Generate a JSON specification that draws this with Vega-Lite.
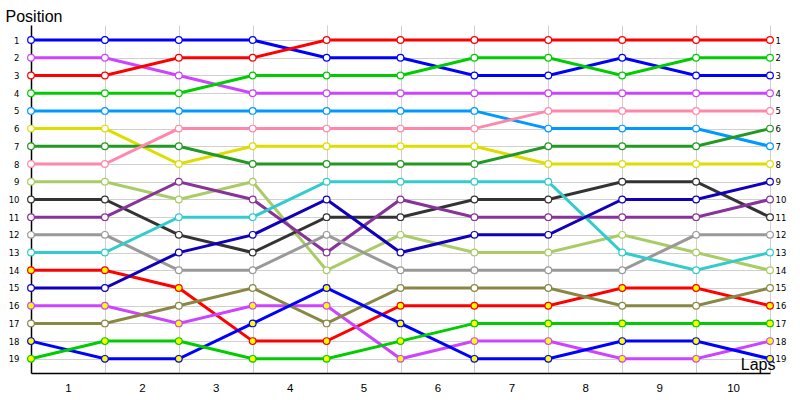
{
  "$schema": "https://vega.github.io/schema/vega-lite/v6.json",
  "width": 739,
  "height": 348,
  "autosize": {"type": "none"},
  "padding": {"left": 31, "top": 25, "right": 30, "bottom": 27},
  "background": "white",
  "config": {"view": {"stroke": null}},
  "datasets": {
    "laps": [
      {"d":"A","l":0,"p":1},{"d":"A","l":1,"p":1},{"d":"A","l":2,"p":1},{"d":"A","l":3,"p":1},{"d":"A","l":4,"p":2},{"d":"A","l":5,"p":2},{"d":"A","l":6,"p":3},{"d":"A","l":7,"p":3},{"d":"A","l":8,"p":2},{"d":"A","l":9,"p":3},{"d":"A","l":10,"p":3},
      {"d":"B","l":0,"p":2},{"d":"B","l":1,"p":2},{"d":"B","l":2,"p":3},{"d":"B","l":3,"p":4},{"d":"B","l":4,"p":4},{"d":"B","l":5,"p":4},{"d":"B","l":6,"p":4},{"d":"B","l":7,"p":4},{"d":"B","l":8,"p":4},{"d":"B","l":9,"p":4},{"d":"B","l":10,"p":4},
      {"d":"C","l":0,"p":3},{"d":"C","l":1,"p":3},{"d":"C","l":2,"p":2},{"d":"C","l":3,"p":2},{"d":"C","l":4,"p":1},{"d":"C","l":5,"p":1},{"d":"C","l":6,"p":1},{"d":"C","l":7,"p":1},{"d":"C","l":8,"p":1},{"d":"C","l":9,"p":1},{"d":"C","l":10,"p":1},
      {"d":"D","l":0,"p":4},{"d":"D","l":1,"p":4},{"d":"D","l":2,"p":4},{"d":"D","l":3,"p":3},{"d":"D","l":4,"p":3},{"d":"D","l":5,"p":3},{"d":"D","l":6,"p":2},{"d":"D","l":7,"p":2},{"d":"D","l":8,"p":3},{"d":"D","l":9,"p":2},{"d":"D","l":10,"p":2},
      {"d":"E","l":0,"p":5},{"d":"E","l":1,"p":5},{"d":"E","l":2,"p":5},{"d":"E","l":3,"p":5},{"d":"E","l":4,"p":5},{"d":"E","l":5,"p":5},{"d":"E","l":6,"p":5},{"d":"E","l":7,"p":6},{"d":"E","l":8,"p":6},{"d":"E","l":9,"p":6},{"d":"E","l":10,"p":7},
      {"d":"F","l":0,"p":6},{"d":"F","l":1,"p":6},{"d":"F","l":2,"p":8},{"d":"F","l":3,"p":7},{"d":"F","l":4,"p":7},{"d":"F","l":5,"p":7},{"d":"F","l":6,"p":7},{"d":"F","l":7,"p":8},{"d":"F","l":8,"p":8},{"d":"F","l":9,"p":8},{"d":"F","l":10,"p":8},
      {"d":"G","l":0,"p":7},{"d":"G","l":1,"p":7},{"d":"G","l":2,"p":7},{"d":"G","l":3,"p":8},{"d":"G","l":4,"p":8},{"d":"G","l":5,"p":8},{"d":"G","l":6,"p":8},{"d":"G","l":7,"p":7},{"d":"G","l":8,"p":7},{"d":"G","l":9,"p":7},{"d":"G","l":10,"p":6},
      {"d":"H","l":0,"p":8},{"d":"H","l":1,"p":8},{"d":"H","l":2,"p":6},{"d":"H","l":3,"p":6},{"d":"H","l":4,"p":6},{"d":"H","l":5,"p":6},{"d":"H","l":6,"p":6},{"d":"H","l":7,"p":5},{"d":"H","l":8,"p":5},{"d":"H","l":9,"p":5},{"d":"H","l":10,"p":5},
      {"d":"I","l":0,"p":9},{"d":"I","l":1,"p":9},{"d":"I","l":2,"p":10},{"d":"I","l":3,"p":9},{"d":"I","l":4,"p":14},{"d":"I","l":5,"p":12},{"d":"I","l":6,"p":13},{"d":"I","l":7,"p":13},{"d":"I","l":8,"p":12},{"d":"I","l":9,"p":13},{"d":"I","l":10,"p":14},
      {"d":"J","l":0,"p":10},{"d":"J","l":1,"p":10},{"d":"J","l":2,"p":12},{"d":"J","l":3,"p":13},{"d":"J","l":4,"p":11},{"d":"J","l":5,"p":11},{"d":"J","l":6,"p":10},{"d":"J","l":7,"p":10},{"d":"J","l":8,"p":9},{"d":"J","l":9,"p":9},{"d":"J","l":10,"p":11},
      {"d":"K","l":0,"p":11},{"d":"K","l":1,"p":11},{"d":"K","l":2,"p":9},{"d":"K","l":3,"p":10},{"d":"K","l":4,"p":13},{"d":"K","l":5,"p":10},{"d":"K","l":6,"p":11},{"d":"K","l":7,"p":11},{"d":"K","l":8,"p":11},{"d":"K","l":9,"p":11},{"d":"K","l":10,"p":10},
      {"d":"L","l":0,"p":12},{"d":"L","l":1,"p":12},{"d":"L","l":2,"p":14},{"d":"L","l":3,"p":14},{"d":"L","l":4,"p":12},{"d":"L","l":5,"p":14},{"d":"L","l":6,"p":14},{"d":"L","l":7,"p":14},{"d":"L","l":8,"p":14},{"d":"L","l":9,"p":12},{"d":"L","l":10,"p":12},
      {"d":"M","l":0,"p":13},{"d":"M","l":1,"p":13},{"d":"M","l":2,"p":11},{"d":"M","l":3,"p":11},{"d":"M","l":4,"p":9},{"d":"M","l":5,"p":9},{"d":"M","l":6,"p":9},{"d":"M","l":7,"p":9},{"d":"M","l":8,"p":13},{"d":"M","l":9,"p":14},{"d":"M","l":10,"p":13},
      {"d":"N","l":0,"p":14},{"d":"N","l":1,"p":14},{"d":"N","l":2,"p":15},{"d":"N","l":3,"p":18},{"d":"N","l":4,"p":18},{"d":"N","l":5,"p":16},{"d":"N","l":6,"p":16},{"d":"N","l":7,"p":16},{"d":"N","l":8,"p":15},{"d":"N","l":9,"p":15},{"d":"N","l":10,"p":16},
      {"d":"O","l":0,"p":15},{"d":"O","l":1,"p":15},{"d":"O","l":2,"p":13},{"d":"O","l":3,"p":12},{"d":"O","l":4,"p":10},{"d":"O","l":5,"p":13},{"d":"O","l":6,"p":12},{"d":"O","l":7,"p":12},{"d":"O","l":8,"p":10},{"d":"O","l":9,"p":10},{"d":"O","l":10,"p":9},
      {"d":"P","l":0,"p":16},{"d":"P","l":1,"p":16},{"d":"P","l":2,"p":17},{"d":"P","l":3,"p":16},{"d":"P","l":4,"p":16},{"d":"P","l":5,"p":19},{"d":"P","l":6,"p":18},{"d":"P","l":7,"p":18},{"d":"P","l":8,"p":19},{"d":"P","l":9,"p":19},{"d":"P","l":10,"p":18},
      {"d":"Q","l":0,"p":17},{"d":"Q","l":1,"p":17},{"d":"Q","l":2,"p":16},{"d":"Q","l":3,"p":15},{"d":"Q","l":4,"p":17},{"d":"Q","l":5,"p":15},{"d":"Q","l":6,"p":15},{"d":"Q","l":7,"p":15},{"d":"Q","l":8,"p":16},{"d":"Q","l":9,"p":16},{"d":"Q","l":10,"p":15},
      {"d":"R","l":0,"p":18},{"d":"R","l":1,"p":19},{"d":"R","l":2,"p":19},{"d":"R","l":3,"p":17},{"d":"R","l":4,"p":15},{"d":"R","l":5,"p":17},{"d":"R","l":6,"p":19},{"d":"R","l":7,"p":19},{"d":"R","l":8,"p":18},{"d":"R","l":9,"p":18},{"d":"R","l":10,"p":19},
      {"d":"S","l":0,"p":19},{"d":"S","l":1,"p":18},{"d":"S","l":2,"p":18},{"d":"S","l":3,"p":19},{"d":"S","l":4,"p":19},{"d":"S","l":5,"p":18},{"d":"S","l":6,"p":17},{"d":"S","l":7,"p":17},{"d":"S","l":8,"p":17},{"d":"S","l":9,"p":17},{"d":"S","l":10,"p":17}
    ]
  },
  "data": {"name": "laps"},
  "encoding": {
    "x": {
      "field": "l", "type": "quantitative",
      "scale": {"domain": [0, 10], "nice": false, "zero": false},
      "axis": {
        "values": [0,0.5,1,1.5,2,2.5,3,3.5,4,4.5,5,5.5,6,6.5,7,7.5,8,8.5,9,9.5,10],
        "labelExpr": "datum.value % 1 ? toString(floor(datum.value) + 1) : ''",
        "grid": true,
        "gridColor": "#d0d0d0",
        "gridWidth": 1,
        "gridOpacity": {"condition": {"test": "datum.value % 1 == 0", "value": 1}, "value": 0},
        "ticks": false,
        "domain": true, "domainColor": "#000000", "domainWidth": 1.5,
        "labelFont": "Liberation Sans", "labelFontSize": 11.5, "labelColor": "#000000",
        "labelPadding": 9,
        "labelFlush": false, "labelOverlap": false,
        "title": "Laps",
        "titleFont": "Liberation Sans", "titleFontSize": 16, "titleFontWeight": "normal",
        "titleColor": "#000000",
        "titleAlign": "right", "titleBaseline": "alphabetic",
        "titleX": 744, "titleY": -4
      }
    }
  },
  "layer": [
    {
      "mark": {"type": "line", "strokeWidth": 3},
      "encoding": {
        "y": {
          "field": "p", "type": "quantitative",
          "scale": {"domain": [0.15, 19.8], "reverse": true, "nice": false, "zero": false},
          "axis": {
            "orient": "left",
            "values": [1,2,3,4,5,6,7,8,9,10,11,12,13,14,15,16,17,18,19],
            "grid": true, "gridColor": "#d0d0d0", "gridWidth": 1,
            "ticks": false,
            "domain": true, "domainColor": "#000000", "domainWidth": 1.5,
            "labelFont": "DejaVu Sans", "labelFontSize": 8.5, "labelColor": "#000000",
            "labelPadding": 12,
            "title": "Position",
            "titleFont": "Liberation Sans", "titleFontSize": 16, "titleFontWeight": "normal",
            "titleColor": "#000000",
            "titleAngle": 0, "titleAlign": "left", "titleBaseline": "alphabetic",
            "titleX": -26, "titleY": -4
          }
        },
        "color": {
          "field": "d", "type": "nominal", "legend": null,
          "scale": {
            "domain": ["A","B","C","D","E","F","G","H","I","J","K","L","M","N","O","P","Q","R","S"],
            "range": ["#0000ff","#cc44ff","#ff0000","#00cc00","#0099ff","#dddd00","#229922","#ff88aa","#aacc66","#333333","#883399","#999999","#33cccc","#ff0000","#1100bb","#cc44ff","#888844","#0000ff","#00cc00"]
          }
        }
      }
    },
    {
      "mark": {"type": "point", "shape": "circle", "filled": true, "size": 45, "strokeWidth": 1.2, "opacity": 1},
      "encoding": {
        "y": {
          "field": "p", "type": "quantitative",
          "scale": {"domain": [0.15, 19.8], "reverse": true, "nice": false, "zero": false},
          "axis": {
            "orient": "right",
            "values": [1,2,3,4,5,6,7,8,9,10,11,12,13,14,15,16,17,18,19],
            "grid": false, "ticks": false, "domain": false,
            "labelFont": "DejaVu Sans", "labelFontSize": 8.5, "labelColor": "#000000",
            "labelPadding": 5,
            "title": null
          }
        },
        "stroke": {
          "field": "d", "type": "nominal", "legend": null,
          "scale": {
            "domain": ["A","B","C","D","E","F","G","H","I","J","K","L","M","N","O","P","Q","R","S"],
            "range": ["#0000ff","#cc44ff","#ff0000","#00cc00","#0099ff","#dddd00","#229922","#ff88aa","#aacc66","#333333","#883399","#999999","#33cccc","#ff0000","#1100bb","#cc44ff","#888844","#0000ff","#00cc00"]
          }
        },
        "fill": {
          "condition": {"test": "indexof(['N','P','R','S'], datum.d) >= 0", "value": "#ffff00"},
          "value": "#ffffff"
        }
      }
    }
  ],
  "resolve": {"axis": {"y": "independent"}}
}
